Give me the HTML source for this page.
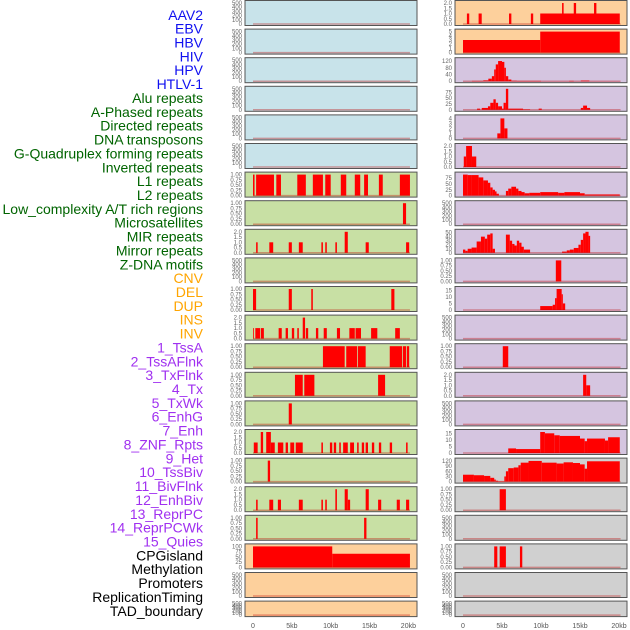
<!DOCTYPE html>
<html><head><meta charset="utf-8"><style>
body{margin:0;background:#fff;width:630px;height:630px;overflow:hidden;font-family:"Liberation Sans",sans-serif}
svg{display:block}
</style></head><body>
<svg id="chart" width="630" height="630" xmlns="http://www.w3.org/2000/svg"></svg>
<script>
const labels=["AAV2","EBV","HBV","HIV","HPV","HTLV-1","Alu repeats","A-Phased repeats","Directed repeats","DNA transposons","G-Quadruplex forming repeats","Inverted repeats","L1 repeats","L2 repeats","Low_complexity A/T rich regions","Microsatellites","MIR repeats","Mirror repeats","Z-DNA motifs","CNV","DEL","DUP","INS","INV","1_TssA","2_TssAFlnk","3_TxFlnk","4_Tx","5_TxWk","6_EnhG","7_Enh","8_ZNF_Rpts","9_Het","10_TssBiv","11_BivFlnk","12_EnhBiv","13_ReprPC","14_ReprPCWk","15_Quies","CPGisland","Methylation","Promoters","ReplicationTiming","TAD_boundary"];
const labelColors=["#1010f0","#1010f0","#1010f0","#1010f0","#1010f0","#1010f0","#006400","#006400","#006400","#006400","#006400","#006400","#006400","#006400","#006400","#006400","#006400","#006400","#006400","#ffa500","#ffa500","#ffa500","#ffa500","#ffa500","#a030f0","#a030f0","#a030f0","#a030f0","#a030f0","#a030f0","#a030f0","#a030f0","#a030f0","#a030f0","#a030f0","#a030f0","#a030f0","#a030f0","#a030f0","#000","#000","#000","#000","#000"];
const xTicks=[0,5,10,15,20];
const xTickLabels=["0","5kb","10kb","15kb","20kb"];
const T500=[0,100,200,300,400,500],T1=[0,0.25,0.5,0.75,1],T2=[0,0.5,1,1.5,2];
const leftMax=[500,500,500,500,500,500,1,1,2,500,1,2,1,1,1,2,1,2,1,100,500,500];
const leftTicks=[T500,T500,T500,T500,T500,T500,T1,T1,T2,T500,T1,T2,T1,T1,T1,T2,T1,T2,T1,[0,25,50,75,100],T500,T500];
const rightMax=[2,5,125,90,4.2,2,90,500,52,1,16,500,1,2,500,16,122,1,500,1,500,500];
const rightTicks=[T2,[0,1,2,3,4,5],[0,40,80,120],[0,25,50,75],[0,1,2,3,4],T2,[0,25,50,75],T500,[0,10,20,30,40,50],T1,[0,5,10,15],T500,T1,T2,T500,[0,5,10,15],[0,30,60,90,120],T1,T500,T1,T500,T500];
const leftSegs=[[],[],[],[],[],[],
[[0,0.2,1],[0.4,2.7,1],[3,3.6,1],[5.7,6.8,1],[7.7,9,1],[9.3,10,1],[11.3,12,1],[13.1,13.8,1],[14.3,14.8,1],[16.2,16.7,1],[18.9,20.2,1]],
[[19.3,19.7,1]],
[[0.4,0.6,1],[2.1,2.6,1],[4.6,5,1],[5.9,6.4,1],[8.8,9,1],[9.3,9.5,1],[10.6,10.8,1],[11.8,12.2,2],[14.5,14.9,1],[19.7,20.1,1]],
[],
[[0,0.4,1],[4.6,5,1],[7.5,7.7,1],[17.8,18.2,1]],
[[0,0.1,1],[0.3,0.9,1],[1,1.4,1],[3.3,3.7,1],[4.2,4.5,1],[5,5.3,1],[5.7,5.9,1],[6.4,6.7,2],[6.8,7.1,1],[8.1,8.4,1],[9.1,9.5,1],[10.8,11.2,1],[12.4,13.1,1],[13.2,13.9,1],[15.2,16,1],[18.3,18.9,1]],
[[9,11.8,1],[12,13.4,1],[13.5,14.5,1],[17.6,19.2,1],[19.3,19.7,1],[19.8,20.1,1]],
[[5.4,6.4,1],[6.6,7.9,1],[16.1,17,1]],
[[4.6,5,1]],
[[0.1,0.6,1],[1,1.3,2],[1.7,2.3,2],[2.3,2.8,1],[3.2,3.9,1],[4.2,4.5,1],[4.8,5.3,1],[5.5,6.4,1],[8.8,9,1],[9.9,10.2,1],[10.4,10.7,1],[11.1,11.3,1],[11.6,12.2,1],[12.5,13,1],[13.4,13.6,1],[14,14.3,1],[14.5,14.8,1],[15.3,15.6,1],[16.2,16.5,1],[17.6,17.9,1],[19.7,19.9,1]],
[[1.9,2.2,1]],
[[0.4,0.6,1],[2.1,2.6,1],[3.2,3.6,1],[5.9,6.4,1],[8.8,9,1],[9.3,9.5,1],[10.6,10.8,2],[11.8,12.2,2],[12.2,12.5,1],[14.5,14.9,2],[16.1,16.5,1],[18.5,18.9,1],[19.7,20.1,1]],
[[0.4,0.6,1],[14.3,14.6,1]],
[[0,10.2,100],[10.2,20.2,65]],
[],[]];
const rightSegs=[
[[0.5,0.8,1],[2,2.4,1],[5.9,6.2,1],[8.7,9,1],[9.9,20.1,1],[12.7,12.9,2],[14.2,14.5,2],[16.8,17.1,2]],
[[0,9.9,3],[9.9,20.1,5]],
[[1.15,2.6,2],[2.6,3.25,5],[3.25,3.7,15],[3.7,4,30],[4,4.2,70],[4.2,4.5,100],[4.5,5,120],[5,5.3,115],[5.3,5.5,80],[5.5,5.8,30],[5.8,6.2,10],[6.2,6.9,3],[6.9,10,2],[13.6,14.2,2],[15.1,16.2,4]],
[[1.8,2.2,5],[2.4,3.2,8],[3.2,3.5,15],[3.5,3.9,30],[3.9,4.2,45],[4.2,4.5,30],[4.5,5,15],[5,5.2,5],[5.2,5.5,30],[5.5,5.8,90],[5.8,7.7,5],[7.7,8.6,2],[9.7,10.1,5],[15.1,15.4,8],[15.4,15.9,18],[15.9,16.3,8]],
[[4.4,4.8,1],[4.8,5.3,4],[5.3,5.7,2]],
[[0.1,0.4,1],[0.4,1.15,2],[1.15,1.7,1]],
[[0,0.6,90],[0.6,1.1,88],[1.1,2,88],[2,2.6,78],[2.6,3.2,65],[3.2,3.5,55],[3.5,3.8,35],[3.8,4.1,25],[4.1,4.3,18],[4.3,4.6,8],[5.5,5.8,20],[5.8,6.2,30],[6.2,6.8,38],[6.8,7.1,30],[7.1,7.5,20],[7.5,7.9,15],[7.9,8.5,10],[8.5,9.9,12],[9.9,12.2,15],[12.2,13,12],[13,15,15],[15,15.6,10],[15.6,20.1,5]],
[],
[[0,0.3,8],[0.3,0.6,5],[0.6,1.1,10],[1.1,1.75,13],[1.75,2.3,28],[2.3,2.8,40],[2.8,3.1,35],[3.1,3.5,45],[3.5,3.8,48],[3.8,4.1,10],[5.5,6,45],[6,6.3,30],[6.3,6.6,22],[6.6,6.9,18],[6.9,7.2,30],[7.2,7.5,25],[7.5,7.8,15],[7.8,8.6,8],[12.7,13.3,3],[13.3,13.7,6],[13.7,14.2,8],[14.2,14.8,12],[14.8,15.1,20],[15.1,15.4,32],[15.4,15.7,48],[15.7,16.1,52],[16.1,16.3,42]],
[[11.9,12.6,1]],
[[9.9,11.5,3],[11.5,11.8,4],[11.8,12,9],[12,12.65,16],[12.65,12.8,12],[12.8,13.1,5]],
[],
[[5.1,5.8,1]],
[[15.4,15.8,2],[15.8,16.3,1]],
[],
[[5.8,6.8,3.5],[6.8,9.9,3],[9.9,10.5,16],[10.5,11.7,15],[11.7,12.4,13.5],[12.4,15,13],[15,15.6,11],[15.6,15.9,9],[15.9,18.2,11],[18.2,18.6,9.5],[18.6,20.1,12]],
[[0,1.4,40],[1.4,2.7,37],[2.7,3.5,33],[3.5,4,22],[4,4.2,12],[4.2,4.5,5],[4.5,5.3,2],[5.3,5.5,30],[5.5,5.8,60],[5.8,6.5,78],[6.5,7.1,82],[7.1,7.4,95],[7.4,8.4,110],[8.4,10.1,120],[10.1,12,110],[12,12.9,105],[12.9,14.1,112],[14.1,15,108],[15,15.6,100],[15.6,15.9,75],[15.9,20.1,118]],
[[4.7,5.5,1]],
[],
[[4,4.4,1],[4.7,5.5,1],[7.3,7.6,1]],
[],[]];
const leftBg=i=>i<6?"#c8e3ea":(i<19?"#c8e0a4":"#fdd09c");
const rightBg=i=>i<2?"#fdd09c":(i<16?"#d5c5e0":"#d0d0d0");
const NS="http://www.w3.org/2000/svg";
const svg=document.getElementById("chart");
function mk(tag,attrs,parent){const e=document.createElementNS(NS,tag);for(const k in attrs)e.setAttribute(k,attrs[k]);(parent||svg).appendChild(e);return e;}
labels.forEach((t,i)=>{
  const e=mk("text",{x:203,y:19.8+i*13.86,"text-anchor":"end","font-size":"14",fill:labelColors[i]});
  
  
  e.textContent=t;
});
function fmt(v,ticks){const m=Math.max(...ticks);if(m===1)return v.toFixed(2);if(m===2)return v.toFixed(1);return String(v);}
function panel(col,i,max,ticks,segs,bg){
  const px=col?455:245, w=172;
  const top=0.5+i*28.6, h=i===21?15.5:25;
  const x0=col?463:253, kx=col?7.8:7.77;
  const sx=kb=>x0+kb*kx;
  const yb=top+h-1.5, yt=top+2.5;
  const sy=v=>yb-(v/max)*(yb-yt);
  const g=mk("g",{});
  
  
  mk("rect",{x:px,y:top,width:w,height:h,fill:bg,stroke:"#555","stroke-width":1},g);
  segs.forEach(s=>{
    const r=mk("rect",{x:sx(s[0]),y:sy(s[2]),width:Math.max(0.8,sx(s[1])-sx(s[0])),height:yb-sy(s[2]),fill:"#ff0000"},g);
    
    
  });
  mk("line",{x1:sx(0),x2:sx(20.2),y1:yb,y2:yb,stroke:"rgba(190,0,0,0.35)","stroke-width":1.5},g);
  ticks.forEach(v=>{
    const t=mk("text",{x:px-3,y:sy(v)+2,"text-anchor":"end","font-size":"6",fill:"#666"},g);
    
    
    t.textContent=fmt(v,ticks);
  });
}
for(let i=0;i<22;i++){panel(0,i,leftMax[i],leftTicks[i],leftSegs[i],leftBg(i));panel(1,i,rightMax[i],rightTicks[i],rightSegs[i],rightBg(i));}
[0,1].forEach(col=>{
  const x0=col?463:253,kx=col?7.8:7.77;
  xTicks.forEach((v,j)=>{
    const t=mk("text",{x:x0+v*kx,y:628,"text-anchor":"middle","font-size":"7",fill:"#555"});
    
    
    t.textContent=xTickLabels[j];
  });
});
</script>
</body></html>
